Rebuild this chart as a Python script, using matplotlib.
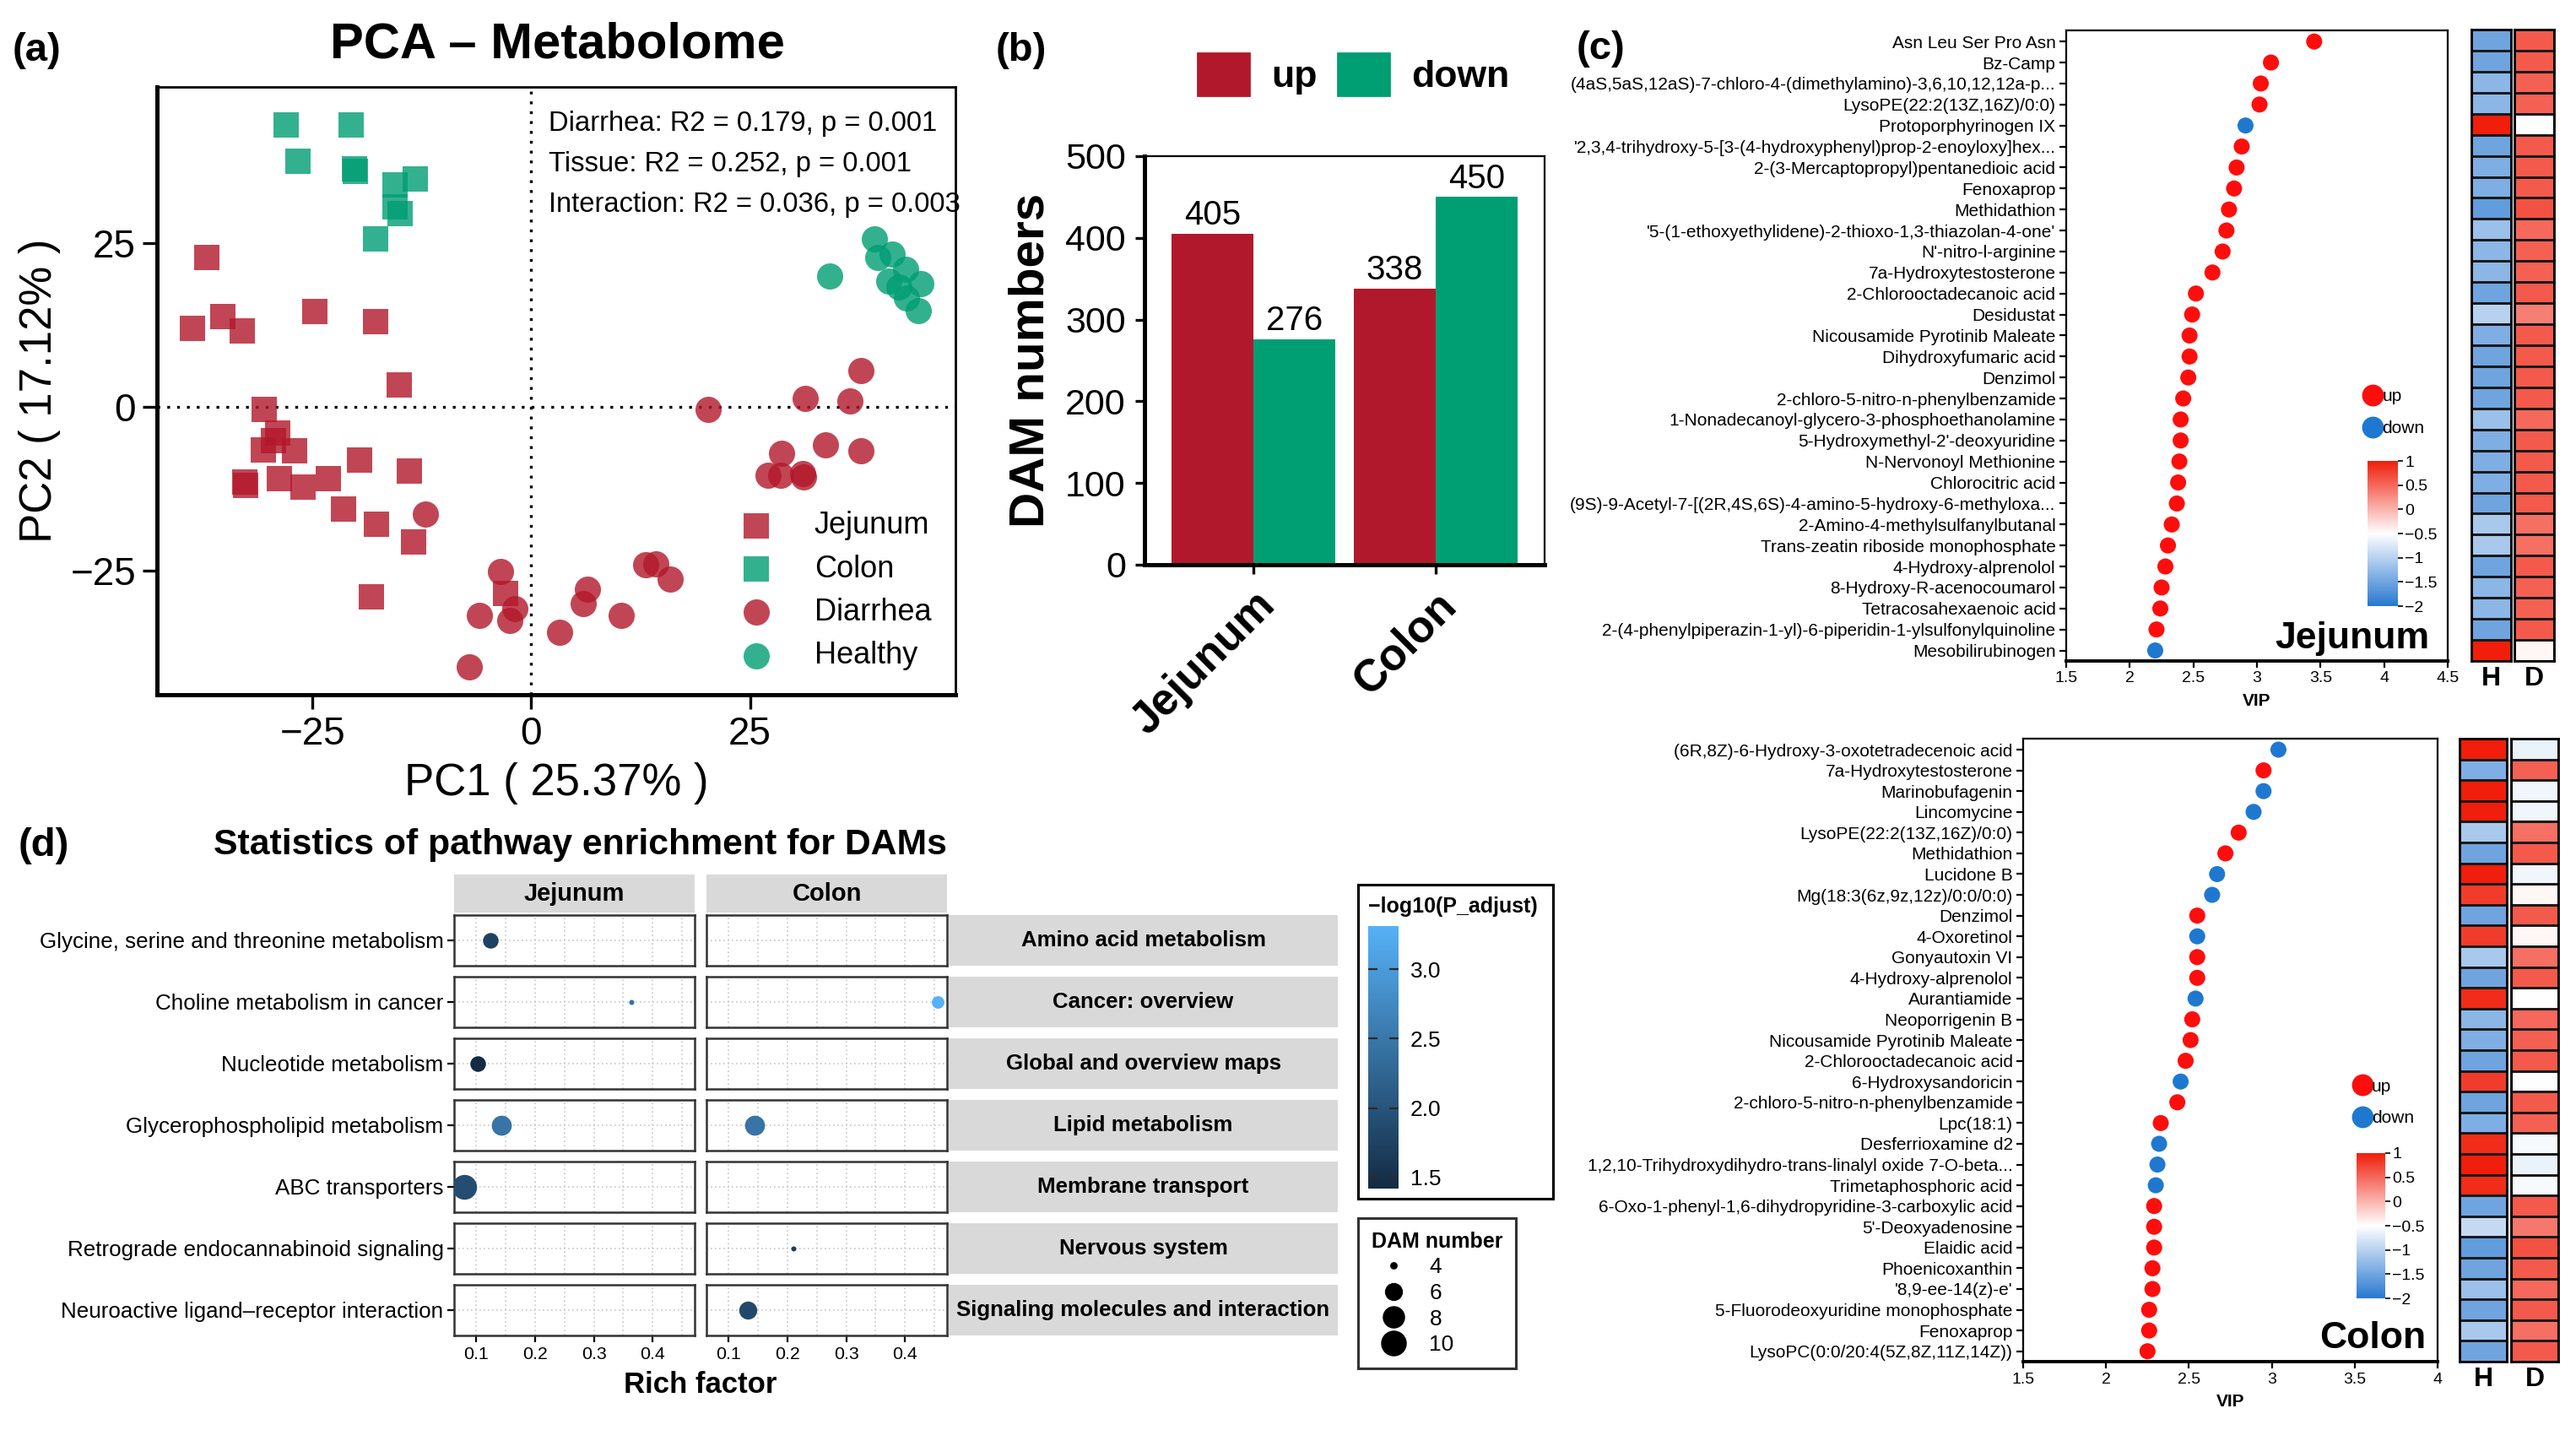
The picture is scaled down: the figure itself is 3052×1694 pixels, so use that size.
import numpy as np
import matplotlib
matplotlib.use("Agg")
import matplotlib.pyplot as plt
from matplotlib import font_manager
from matplotlib.colors import LinearSegmentedColormap, Normalize
from matplotlib.colorbar import ColorbarBase
from matplotlib.lines import Line2D
from matplotlib.patches import Patch

# ---------------- (a) PCA scores ----------------
jejunum_pc1 = [-37.1, -35.3, -38.7, -33.1, -24.8, -17.8, -15.1, -30.5, -29.0, -29.5, -30.6, -27.1,
               -19.6, -13.9, -32.8, -32.7, -28.8, -26.1, -23.2, -21.5, -17.7, -13.5, -18.3, -2.9]
jejunum_pc2 = [22.8, 13.7, 11.9, 11.6, 14.5, 13.0, 3.3, -0.4, -4.1, -5.2, -6.6, -6.8,
               -8.2, -9.8, -11.5, -12.0, -11.0, -12.3, -11.0, -15.6, -18.0, -20.7, -29.1, -28.5]
colon_pc1 = [-28.0, -20.6, -26.7, -20.2, -20.1, -13.3, -15.6, -15.6, -15.0, -17.8]
colon_pc2 = [43.0, 43.0, 37.4, 36.3, 35.9, 34.7, 33.8, 30.5, 29.5, 25.6]
diarrhea_pc1 = [-12.1, -3.5, -5.9, -2.5, -1.9, -7.1, 3.2, 5.9, 6.4, 10.3, 13.1, 14.2, 15.9,
                20.2, 31.3, 36.4, 37.7, 33.6, 37.7, 28.6, 27.1, 28.5, 31.0, 31.1]
diarrhea_pc2 = [-16.4, -25.2, -31.9, -32.6, -30.9, -39.8, -34.4, -30.1, -27.9, -31.9, -24.2, -24.0, -26.3,
                -0.4, 1.3, 0.8, 5.5, -5.9, -6.8, -7.2, -10.5, -10.5, -10.2, -10.7]
healthy_pc1 = [34.1, 39.2, 39.6, 41.3, 42.8, 40.9, 42.0, 44.5, 42.9, 44.3]
healthy_pc2 = [19.9, 25.6, 22.8, 23.3, 20.9, 19.2, 18.2, 18.8, 16.6, 14.7]
permanova_lines = ["Diarrhea: R2 = 0.179, p = 0.001",
                   "Tissue: R2 = 0.252, p = 0.001",
                   "Interaction: R2 = 0.036, p = 0.003"]

# ---------------- (b) DAM counts ----------------
tissues = ["Jejunum", "Colon"]
dam_up = [405, 338]
dam_down = [276, 450]

# ---------------- (c) VIP top metabolites ----------------
jej_names = ["Asn Leu Ser Pro Asn", "Bz-Camp",
             "(4aS,5aS,12aS)-7-chloro-4-(dimethylamino)-3,6,10,12,12a-p...",
             "LysoPE(22:2(13Z,16Z)/0:0)", "Protoporphyrinogen IX",
             "'2,3,4-trihydroxy-5-[3-(4-hydroxyphenyl)prop-2-enoyloxy]hex...",
             "2-(3-Mercaptopropyl)pentanedioic acid", "Fenoxaprop", "Methidathion",
             "'5-(1-ethoxyethylidene)-2-thioxo-1,3-thiazolan-4-one'", "N'-nitro-l-arginine",
             "7a-Hydroxytestosterone", "2-Chlorooctadecanoic acid", "Desidustat",
             "Nicousamide Pyrotinib Maleate", "Dihydroxyfumaric acid", "Denzimol",
             "2-chloro-5-nitro-n-phenylbenzamide", "1-Nonadecanoyl-glycero-3-phosphoethanolamine",
             "5-Hydroxymethyl-2'-deoxyuridine", "N-Nervonoyl Methionine", "Chlorocitric acid",
             "(9S)-9-Acetyl-7-[(2R,4S,6S)-4-amino-5-hydroxy-6-methyloxa...",
             "2-Amino-4-methylsulfanylbutanal", "Trans-zeatin riboside monophosphate",
             "4-Hydroxy-alprenolol", "8-Hydroxy-R-acenocoumarol", "Tetracosahexaenoic acid",
             "2-(4-phenylpiperazin-1-yl)-6-piperidin-1-ylsulfonylquinoline", "Mesobilirubinogen"]
jej_vip = [3.45, 3.11, 3.03, 3.02, 2.91, 2.88, 2.84, 2.82, 2.78, 2.76, 2.73, 2.65, 2.52, 2.49, 2.47,
           2.47, 2.46, 2.42, 2.40, 2.40, 2.39, 2.38, 2.37, 2.33, 2.30, 2.28, 2.25, 2.24, 2.21, 2.20]
jej_dir = ["up"] * 4 + ["down"] + ["up"] * 24 + ["down"]
jej_H = [-1.5, -1.5, -1.3, -1.3, 1.0, -1.5, -1.4, -1.4, -1.6, -1.2, -1.3, -1.3, -1.5, -1.0, -1.4,
         -1.5, -1.5, -1.5, -1.2, -1.4, -1.4, -1.4, -1.5, -1.1, -1.1, -1.5, -1.3, -1.3, -1.5, 1.0]
jej_D = [0.6, 0.6, 0.55, 0.55, -0.5, 0.6, 0.6, 0.6, 0.65, 0.5, 0.55, 0.55, 0.6, 0.35, 0.6,
         0.6, 0.6, 0.6, 0.5, 0.6, 0.6, 0.6, 0.6, 0.45, 0.45, 0.6, 0.55, 0.55, 0.6, -0.45]

col_names = ["(6R,8Z)-6-Hydroxy-3-oxotetradecenoic acid", "7a-Hydroxytestosterone", "Marinobufagenin",
             "Lincomycine", "LysoPE(22:2(13Z,16Z)/0:0)", "Methidathion", "Lucidone B",
             "Mg(18:3(6z,9z,12z)/0:0/0:0)", "Denzimol", "4-Oxoretinol", "Gonyautoxin VI",
             "4-Hydroxy-alprenolol", "Aurantiamide", "Neoporrigenin B", "Nicousamide Pyrotinib Maleate",
             "2-Chlorooctadecanoic acid", "6-Hydroxysandoricin", "2-chloro-5-nitro-n-phenylbenzamide",
             "Lpc(18:1)", "Desferrioxamine d2",
             "1,2,10-Trihydroxydihydro-trans-linalyl oxide 7-O-beta...", "Trimetaphosphoric acid",
             "6-Oxo-1-phenyl-1,6-dihydropyridine-3-carboxylic acid", "5'-Deoxyadenosine", "Elaidic acid",
             "Phoenicoxanthin", "'8,9-ee-14(z)-e'", "5-Fluorodeoxyuridine monophosphate", "Fenoxaprop",
             "LysoPC(0:0/20:4(5Z,8Z,11Z,14Z))"]
col_vip = [3.04, 2.95, 2.95, 2.89, 2.80, 2.72, 2.67, 2.64, 2.55, 2.55, 2.55, 2.55, 2.54, 2.52, 2.51,
           2.48, 2.45, 2.43, 2.33, 2.32, 2.31, 2.30, 2.29, 2.29, 2.29, 2.28, 2.28, 2.26, 2.26, 2.25]
col_dir = ["down", "up", "down", "down", "up", "up", "down", "down", "up", "down", "up", "up", "down",
           "up", "up", "up", "down", "up", "up", "down", "down", "down", "up", "up", "up", "up", "up",
           "up", "up", "up"]
col_H = [1.0, -1.4, 1.0, 1.0, -1.1, -1.5, 1.0, 0.8, -1.5, 0.8, -1.1, -1.5, 0.9, -1.3, -1.4,
         -1.5, 0.8, -1.5, -1.4, 0.9, 1.0, 0.9, -1.5, -0.9, -1.6, -1.5, -1.2, -1.5, -1.1, -1.5]
col_D = [-0.65, 0.55, -0.6, -0.6, 0.45, 0.6, -0.6, -0.45, 0.6, -0.45, 0.45, 0.6, -0.5, 0.5, 0.55,
         0.6, -0.5, 0.6, 0.55, -0.55, -0.65, -0.55, 0.6, 0.4, 0.65, 0.6, 0.5, 0.6, 0.45, 0.6]

# ---------------- (d) pathway enrichment ----------------
pathways = ["Glycine, serine and threonine metabolism", "Choline metabolism in cancer",
            "Nucleotide metabolism", "Glycerophospholipid metabolism", "ABC transporters",
            "Retrograde endocannabinoid signaling", "Neuroactive ligand\u2013receptor interaction"]
path_class = ["Amino acid metabolism", "Cancer: overview", "Global and overview maps",
              "Lipid metabolism", "Membrane transport", "Nervous system",
              "Signaling molecules and interaction"]
nan = np.nan
rich_jej = [0.125, 0.364, 0.103, 0.143, 0.080, nan, nan]
num_jej = [6, 4, 6, 8, 11, nan, nan]
padj_jej = [1.75, 2.40, 1.42, 2.45, 1.90, nan, nan]
rich_col = [nan, 0.455, nan, 0.145, nan, 0.211, 0.133]
num_col = [nan, 5, nan, 8, nan, 4, 7]
padj_col = [nan, 3.31, nan, 2.45, nan, 1.70, 1.85]
size_breaks = [4, 6, 8, 10]
padj_ticks = [1.5, 2.0, 2.5, 3.0]

# ---------------- setup ----------------
W, H = 3052, 1694
DPI = 200
PX_PER_PT = DPI / 72.0

names = {f.name for f in font_manager.fontManager.ttflist}
NARROW = "Liberation Sans Narrow" if "Liberation Sans Narrow" in names else "Liberation Sans"
SANS = "Liberation Sans"
plt.rcParams["font.family"] = [SANS, "DejaVu Sans"]

RED = "#B2182B"
TEAL = "#009E73"
UPC = "#FF0D0D"
DOWNC = "#1F78D0"
hm_cmap = LinearSegmentedColormap.from_list("hm", [(0, "#2878D0"), (0.5, "#FFFFFF"), (1, "#F01E0A")])
hm_norm = Normalize(-2, 1)
gg_cmap = LinearSegmentedColormap.from_list("gg", ["#132B43", "#56B1F7"])
gg_norm = Normalize(1.42, 3.31)

fig = plt.figure(figsize=(W / DPI, H / DPI), dpi=DPI)


def fax(l, t, r, b):
    return fig.add_axes([l / W, 1 - b / H, (r - l) / W, (b - t) / H])


def ftext(x, y, s, **kw):
    fig.text(x / W, 1 - y / H, s, **kw)


# ================= (a) PCA =================
ax = fax(186, 103, 1132, 823)
h1 = ax.scatter(jejunum_pc1, jejunum_pc2, marker="s", s=110, color=RED, alpha=0.8, lw=0)
h2 = ax.scatter(colon_pc1, colon_pc2, marker="s", s=110, color=TEAL, alpha=0.8, lw=0)
h3 = ax.scatter(diarrhea_pc1, diarrhea_pc2, marker="o", s=125, color=RED, alpha=0.8, lw=0)
h4 = ax.scatter(healthy_pc1, healthy_pc2, marker="o", s=125, color=TEAL, alpha=0.8, lw=0)
ax.axhline(0, color="black", ls=(0, (1, 2.5)), lw=1.2, zorder=0)
ax.axvline(0, color="black", ls=(0, (1, 2.5)), lw=1.2, zorder=0)
ax.set_xlim(-42.8, 48.5)
ax.set_ylim(-44.0, 48.8)
ax.set_xticks([-25, 0, 25])
ax.set_yticks([-25, 0, 25])
ax.tick_params(labelsize=16.5, length=6, width=1.2, pad=3)
for lab in ax.get_xticklabels() + ax.get_yticklabels():
    lab.set_family(NARROW)
for side in ["left", "bottom"]:
    ax.spines[side].set_linewidth(1.8)
for side in ["top", "right"]:
    ax.spines[side].set_linewidth(1.0)
ax.set_xlabel("PC1 ( 25.37% )", fontsize=19, family=NARROW, labelpad=4)
ax.set_ylabel("PC2 ( 17.12% )", fontsize=19, family=NARROW, labelpad=4)
for i, line in enumerate(permanova_lines):
    ax.text(0.49, 0.94 - 0.067 * i, line, transform=ax.transAxes, fontsize=11.8, family=NARROW,
            va="center", ha="left")
leg = ax.legend([h1, h2, h3, h4], ["Jejunum", "Colon", "Diarrhea", "Healthy"], loc="lower right",
                bbox_to_anchor=(0.985, 0.02), frameon=False, prop=dict(family=NARROW, size=13),
                handletextpad=0.9, labelspacing=0.45, borderaxespad=0)
ftext(660, 53, "PCA \u2013 Metabolome", ha="center", va="center", fontsize=21.5, weight="bold", family=NARROW)
ftext(15, 60, "(a)", ha="left", va="center", fontsize=17, weight="bold", family=NARROW)

# ================= (b) DAM bars =================
axb = fax(1356, 185, 1830, 669)
x = np.arange(len(tissues))
bw = 0.45
b1 = axb.bar(x - bw / 2, dam_up, bw, color=RED, label="up")
b2 = axb.bar(x + bw / 2, dam_down, bw, color=TEAL, label="down")
axb.bar_label(b1, padding=1, fontsize=14.5)
axb.bar_label(b2, padding=1, fontsize=14.5)
axb.set_xlim(-0.6, 1.6)
axb.set_ylim(0, 500)
axb.set_yticks([0, 100, 200, 300, 400, 500])
axb.set_xticks(x)
axb.set_xticklabels(tissues, rotation=45, ha="right", va="top", rotation_mode="anchor",
                    fontsize=19, weight="bold")
axb.tick_params(axis="y", labelsize=15.5, length=4, width=1.2, pad=4)
axb.tick_params(axis="x", length=4, width=1.2, pad=4)
for side in ["left", "bottom"]:
    axb.spines[side].set_linewidth(1.8)
for side in ["top", "right"]:
    axb.spines[side].set_linewidth(0.8)
axb.set_ylabel("DAM numbers", fontsize=21, weight="bold", labelpad=5)
fig.legend([Patch(color=RED), Patch(color=TEAL)], ["up", "down"], loc="center",
           bbox_to_anchor=(1604 / W, 1 - 88 / H), ncol=2, frameon=False,
           prop=dict(weight="bold", size=16), handlelength=1.36, handleheight=1.36,
           handletextpad=0.6, columnspacing=0.55)
ftext(1180, 60, "(b)", ha="left", va="center", fontsize=17, weight="bold")


# ================= (c) VIP dot plots + heatmaps =================
def vip_panel(box, names_, vip, dirs, hvals, dvals, xmax, title, title_xy, leg_xy, cbox, hbox, dbox):
    l, t, r, b = box
    axc = fax(l, t, r, b)
    n = len(names_)
    y = np.arange(n)
    cols = [UPC if d == "up" else DOWNC for d in dirs]
    axc.scatter(vip, y, s=47, c=cols, lw=0, zorder=3)
    axc.set_ylim(n - 0.5, -0.53)
    axc.set_yticks(y)
    axc.set_yticklabels(names_, fontsize=7.5, family=NARROW)
    axc.set_xlim(1.5, xmax)
    ticks = np.arange(1.5, xmax + 0.01, 0.5)
    axc.set_xticks(ticks)
    axc.set_xticklabels([f"{v:g}" for v in ticks], fontsize=7, family=NARROW)
    axc.tick_params(length=3, width=0.8, pad=1.5)
    for sp in axc.spines.values():
        sp.set_linewidth(0.8)
    axc.spines["bottom"].set_linewidth(1.4)
    axc.set_xlabel("VIP", fontsize=7.5, weight="bold", family=NARROW, labelpad=3)
    axc.text(title_xy[0], title_xy[1], title, transform=axc.transAxes, ha="right", va="baseline",
             fontsize=16, weight="bold", family=NARROW)
    handles = [Line2D([], [], marker="o", ls="", color=UPC, ms=8.3),
               Line2D([], [], marker="o", ls="", color=DOWNC, ms=8.3)]
    axc.legend(handles, ["up", "down"], loc="center", bbox_to_anchor=leg_xy, frameon=False,
               prop=dict(family=NARROW, size=7.5), handletextpad=0.05, labelspacing=0.9,
               handlelength=1.0, borderaxespad=0)
    cax = fax(*cbox)
    cb = ColorbarBase(cax, cmap=hm_cmap, norm=hm_norm, orientation="vertical")
    cb.outline.set_visible(False)
    cticks = [1, 0.5, 0, -0.5, -1, -1.5, -2]
    cb.set_ticks(cticks)
    cb.set_ticklabels([f"{v:g}".replace("-", "\u2212") for v in cticks])
    cax.tick_params(labelsize=7, length=2, width=0.6, pad=1)
    for lab in cax.get_yticklabels():
        lab.set_family(NARROW)
    for vals, hb, lab in [(hvals, hbox, "H"), (dvals, dbox, "D")]:
        axh = fax(*hb)
        axh.pcolormesh(np.array(vals).reshape(-1, 1), cmap=hm_cmap, norm=hm_norm,
                       edgecolors="#1a1a1a", linewidth=1.0)
        axh.set_ylim(n, 0)
        axh.set_xticks([])
        axh.set_yticks([])
        for sp in axh.spines.values():
            sp.set_linewidth(1.0)
        axh.text(0.5, -0.008, lab, transform=axh.transAxes, ha="center", va="top",
                 fontsize=11.5, weight="bold", family=NARROW)


vip_panel((2448, 36, 2900, 783), jej_names, jej_vip, jej_dir, jej_H, jej_D, 4.5, "Jejunum",
          (0.953, 0.02), (0.86, 0.394), (2805, 546, 2841, 718),
          (2928, 35, 2975, 783), (2979, 35, 3026, 783))
vip_panel((2397, 875, 2888, 1613), col_names, col_vip, col_dir, col_H, col_D, 4.0, "Colon",
          (0.971, 0.022), (0.87, 0.416), (2792, 1366, 2826, 1538),
          (2914, 875, 2970, 1613), (2975, 875, 3031, 1613))
ftext(1868, 58, "(c)", ha="left", va="center", fontsize=17, weight="bold", family=NARROW)


# ================= (d) pathway enrichment =================
def dam_diam_pt(v):
    return 6 * (1 + 5 * np.sqrt(max(v - 4, 0) / 11.5)) / PX_PER_PT


row_top0, row_step, row_h = 1084, 73.0, 59.5
facets = [("Jejunum", 538, 823, rich_jej, num_jej, padj_jej),
          ("Colon", 837, 1122, rich_col, num_col, padj_col)]
npath = len(pathways)
for ci, (fname, x0, x1, rich, num, padj) in enumerate(facets):
    sax = fax(x0, 1036, x1, 1081)
    sax.set_facecolor("#D9D9D9")
    sax.set_xticks([])
    sax.set_yticks([])
    for sp in sax.spines.values():
        sp.set_visible(False)
    sax.text(0.5, 0.5, fname, ha="center", va="center", fontsize=10.5, weight="bold", family=NARROW)
    for i in range(npath):
        t = row_top0 + row_step * i
        pax = fax(x0, t, x1, t + row_h)
        pax.set_xlim(0.063, 0.471)
        pax.set_ylim(-1, 1)
        pax.set_xticks([0.1, 0.2, 0.3, 0.4])
        pax.set_xticks([0.15, 0.25, 0.35, 0.45], minor=True)
        pax.grid(True, which="both", axis="x", ls=(0, (1, 2)), lw=0.6, color="#C8C8C8")
        pax.axhline(0, ls=(0, (1, 2)), lw=0.6, color="#C8C8C8", zorder=1)
        if not np.isnan(rich[i]):
            pax.scatter([rich[i]], [0], s=dam_diam_pt(num[i]) ** 2,
                        color=gg_cmap(gg_norm(padj[i])), lw=0, zorder=3)
        pax.tick_params(axis="x", which="minor", length=0)
        if i == npath - 1:
            pax.set_xticklabels(["0.1", "0.2", "0.3", "0.4"], fontsize=7.7, family=NARROW)
            pax.tick_params(axis="x", which="major", length=3, width=0.8, pad=2)
        else:
            pax.tick_params(axis="x", which="major", length=0, labelbottom=False)
        if ci == 0:
            pax.set_yticks([0])
            pax.set_yticklabels([pathways[i]], fontsize=9.35, family=NARROW)
            pax.tick_params(axis="y", length=3, width=0.8, pad=1.5)
        else:
            pax.set_yticks([])
        for sp in pax.spines.values():
            sp.set_linewidth(0.9)
            sp.set_color("#333333")
        if ci == 1:
            rax = fax(1124, t, 1585, t + row_h)
            rax.set_facecolor("#D9D9D9")
            rax.set_xticks([])
            rax.set_yticks([])
            for sp in rax.spines.values():
                sp.set_visible(False)
            rax.text(0.5, 0.5, path_class[i], ha="center", va="center", fontsize=9.3, weight="bold")

ftext(687, 1001, "Statistics of pathway enrichment for DAMs", ha="center", va="center",
      fontsize=15.4, weight="bold", family=NARROW)
ftext(830, 1640, "Rich factor", ha="center", va="center", fontsize=12.5, weight="bold", family=NARROW)
ftext(22, 1002, "(d)", ha="left", va="center", fontsize=17, weight="bold", family=NARROW)

# colour legend box
bax = fax(1609, 1048, 1840, 1420)
bax.set_xticks([])
bax.set_yticks([])
for sp in bax.spines.values():
    sp.set_linewidth(1.1)
ftext(1621, 1074, "\u2212log10(P_adjust)", ha="left", va="center", fontsize=9, weight="bold")
gcax = fax(1621, 1097, 1657, 1408)
gcb = ColorbarBase(gcax, cmap=gg_cmap, norm=gg_norm, orientation="vertical")
gcb.outline.set_visible(False)
gcb.set_ticks(padj_ticks)
gcb.set_ticklabels([f"{v:.1f}" for v in padj_ticks])
gcax.yaxis.set_ticks_position("both")
gcax.tick_params(direction="in", length=4, width=0.8, color="#2a2a2a", labelsize=9.5, pad=5,
                 labelleft=False, labelright=True)

# size legend box
size_handles = [Line2D([], [], marker="o", ls="", color="black", ms=dam_diam_pt(v)) for v in size_breaks]
oax = fig.add_axes([0, 0, 1, 1], facecolor="none")
oax.set_axis_off()
sleg = oax.legend(size_handles, [str(v) for v in size_breaks], title="DAM number", loc="upper left",
                  bbox_to_anchor=(1609 / W, 1 - 1443 / H), frameon=True, fancybox=False,
                  edgecolor="black", prop=dict(size=9.5), title_fontproperties=dict(weight="bold", size=9),
                  labelspacing=0.25, handletextpad=0.6, borderpad=0.6, borderaxespad=0)
sleg._legend_box.align = "left"
sleg.get_frame().set_linewidth(1.1)

fig.savefig("out.png", dpi=DPI)
